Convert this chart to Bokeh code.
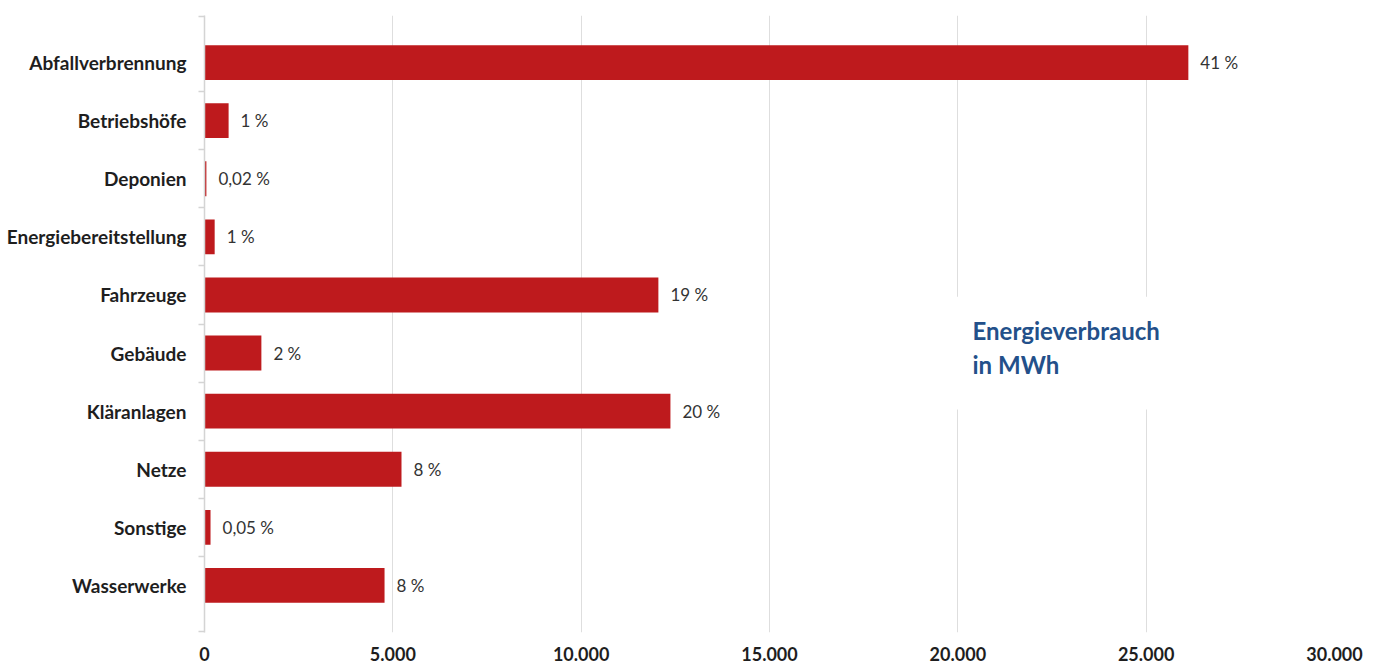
from bokeh.plotting import figure
from bokeh.models import Range1d, FixedTicker, Label, BoxAnnotation, ColumnDataSource
from bokeh.core.properties import value
from bokeh.embed import file_html
from bokeh.resources import INLINE

categories = ["Abfallverbrennung", "Betriebshöfe", "Deponien", "Energiebereitstellung",
              "Fahrzeuge", "Gebäude", "Kläranlagen", "Netze", "Sonstige", "Wasserwerke"]
values_mwh = [26120, 640, 50, 270, 12050, 1510, 12370, 5230, 160, 4780]
pct_labels = ["41 %", "1 %", "0,02 %", "1 %", "19 %", "2 %", "20 %", "8 %", "0,05 %", "8 %"]
x_ticks = [0, 5000, 10000, 15000, 20000, 25000, 30000]
x_tick_labels = ["0", "5.000", "10.000", "15.000", "20.000", "25.000", "30.000"]
annotation_lines = ["Energieverbrauch", "in MWh"]

FONT = "Lato"
RED = "#be1a1d"
GRID = "#dedede"

n = len(categories)
pos = list(range(n))
pad_top = 0.31
pad_bottom = 0.31
y_lo = -0.5 - pad_top
y_hi = n - 0.5 + pad_bottom

src = ColumnDataSource(dict(pos=pos, val=values_mwh, pct=pct_labels, cat=categories))

p = figure(width=1364, height=666, output_backend="svg", toolbar_location=None,
           x_range=Range1d(0, 30000), y_range=Range1d(y_hi, y_lo))
p.min_border_left = 204
p.min_border_right = 30
p.min_border_top = 15
p.min_border_bottom = 34
p.outline_line_color = None
p.background_fill_color = "white"

# annotation background box (covers gridlines)
p.add_layout(BoxAnnotation(left=19950, right=25080, top=4.03, bottom=5.97,
                           fill_color="white", fill_alpha=1.0, line_color=None, level="underlay"))

p.hbar(y="pos", left=0, right="val", height=0.6, source=src,
       fill_color=RED, line_color=None)

p.text(x="val", y="pos", text="pct", source=src, x_offset=12,
       text_baseline="middle", text_align="left",
       text_font=value(FONT), text_font_size="17px", text_color="#333333")

# x axis
p.xaxis.ticker = FixedTicker(ticks=x_ticks)
p.xaxis.major_label_overrides = {t: l for t, l in zip(x_ticks, x_tick_labels)}
p.xaxis.axis_line_color = None
p.xaxis.major_tick_line_color = None
p.xaxis.minor_tick_line_color = None
p.xaxis.major_tick_out = 0
p.xaxis.major_tick_in = 0
p.xaxis.major_label_standoff = 14
p.xaxis.major_label_text_font = FONT
p.xaxis.major_label_text_font_style = "bold"
p.xaxis.major_label_text_font_size = "18px"
p.xaxis.major_label_text_color = "#1e1e1e"

p.xgrid.ticker = FixedTicker(ticks=x_ticks)
p.xgrid.grid_line_color = GRID
p.xgrid.grid_line_width = 1
p.ygrid.grid_line_color = None

# y axis
boundaries = [y_lo + 0.01] + [i + 0.5 for i in range(n - 1)] + [y_hi - 0.01]
p.yaxis.ticker = FixedTicker(ticks=pos, minor_ticks=boundaries)
p.yaxis.major_label_overrides = {i: c for i, c in zip(pos, categories)}
p.yaxis.axis_line_color = "#d4d4d4"
p.yaxis.axis_line_width = 1.5
p.yaxis.major_tick_line_color = None
p.yaxis.major_tick_out = 0
p.yaxis.major_tick_in = 0
p.yaxis.minor_tick_line_color = "#d4d4d4"
p.yaxis.minor_tick_line_width = 1.5
p.yaxis.minor_tick_out = 6
p.yaxis.minor_tick_in = 0
p.yaxis.major_label_standoff = 12
p.yaxis.major_label_text_font = FONT
p.yaxis.major_label_text_font_style = "bold"
p.yaxis.major_label_text_font_size = "19px"
p.yaxis.major_label_text_color = "#1e1e1e"

ann_y = [4.62, 5.19]
for txt, yy in zip(annotation_lines, ann_y):
    p.add_layout(Label(x=20390, y=yy, text=txt, text_font=FONT, text_font_style="bold",
                       text_font_size="24px", text_color="#23508a",
                       text_baseline="alphabetic"))

open("out.html", "w").write(file_html(p, INLINE))
